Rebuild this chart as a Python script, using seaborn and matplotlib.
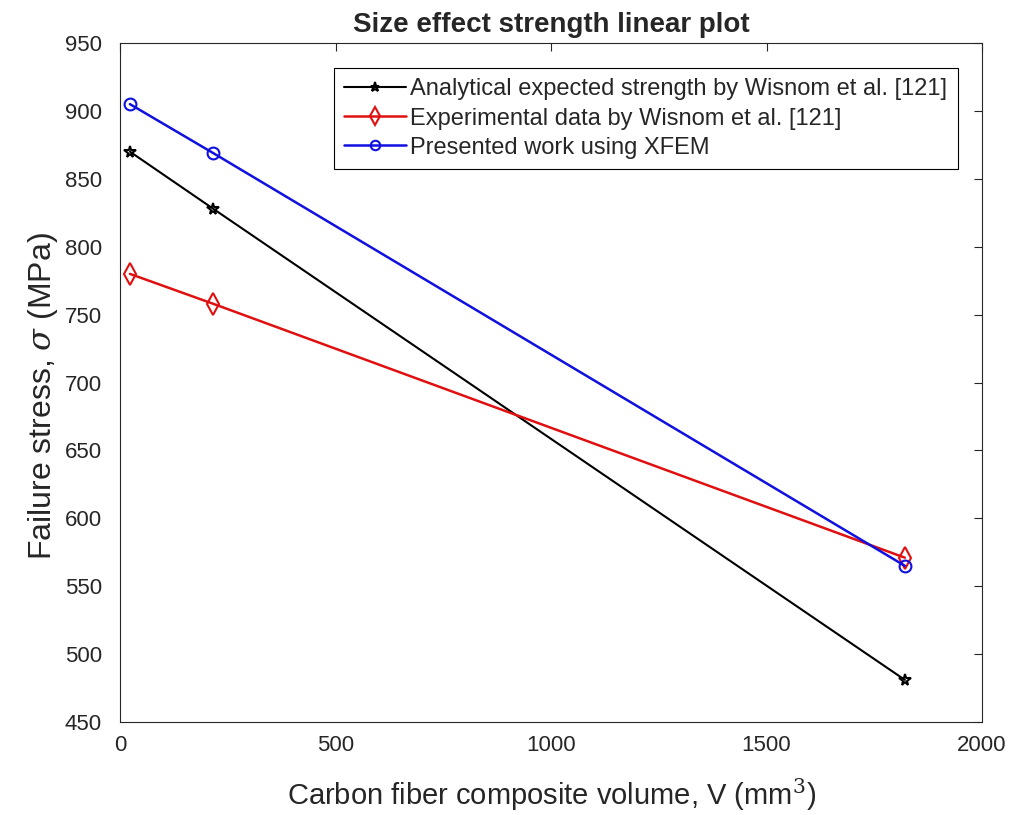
import numpy as np
import pandas as pd
import matplotlib
matplotlib.use("Agg")
import matplotlib.pyplot as plt
import seaborn as sns

volume = [23, 216, 1821]
analytical = [870, 828, 481]
experimental = [780, 758, 571]
xfem = [905, 869, 565]
series_names = ["Analytical expected strength by Wisnom et al. [121]",
                "Experimental data by Wisnom et al. [121]",
                "Presented work using XFEM"]

sns.set_theme(style="white")
plt.rcParams['font.family'] = ['Liberation Sans', 'DejaVu Sans']
plt.rcParams['mathtext.fontset'] = 'dejavuserif'

df = pd.DataFrame({
    "V": volume * 3,
    "sigma": analytical + experimental + xfem,
    "series": [series_names[0]] * 3 + [series_names[1]] * 3 + [series_names[2]] * 3,
})

fig = plt.figure(figsize=(10.32, 8.15), dpi=100)
ax = fig.add_axes([0.1163, 0.1141, 0.8353, 0.8331])

styles = [("black", "*", 1.5, 8.5), ("#e01010", "d", 1.8, 11), ("#1010e0", "o", 1.8, 8.5)]
for name, (c, m, lw, ms) in zip(series_names, styles):
    sub = df[df["series"] == name]
    sns.lineplot(data=sub, x="V", y="sigma", ax=ax, color=c, marker=m,
                 markersize=ms, markerfacecolor="none", markeredgecolor=c,
                 markeredgewidth=1.5, linewidth=lw, label=name, sort=False)

ax.set_xlim(0, 2000)
ax.set_ylim(450, 950)
ax.set_xticks(np.arange(0, 2001, 500))
ax.set_yticks(np.arange(450, 951, 50))
ax.tick_params(direction="in", length=6, top=True, right=True, labelsize=16,
               colors="#262626", width=0.8)
ax.tick_params(axis="x", pad=9)
ax.tick_params(axis="y", pad=13)
for s in ax.spines.values():
    s.set_color("#262626")
    s.set_linewidth(0.8)

ax.set_xlabel("Carbon fiber composite volume, V (mm$^3$)", fontsize=21, color="#262626", labelpad=15)
ax.set_ylabel(r"Failure stress, $\sigma$ (MPa)", fontsize=23, color="#262626")
ax.yaxis.set_label_coords(-0.07, 0.48)
ax.set_title("Size effect strength linear plot", fontsize=20, fontweight="bold", pad=8)

leg = ax.legend(loc="upper right", bbox_to_anchor=(0.972, 0.9635), fontsize=17,
                frameon=True, fancybox=False, edgecolor="black", framealpha=1,
                handlelength=2.6, handletextpad=0.2, borderpad=0.45, labelspacing=0.3,
                borderaxespad=0, markerscale=0.8)
leg.get_frame().set_linewidth(0.8)

fig.savefig("out.png", dpi=100)
